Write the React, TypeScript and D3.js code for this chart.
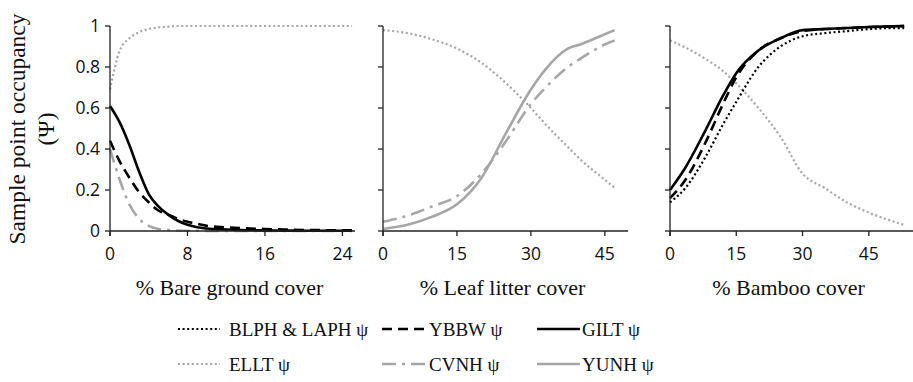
import React, { useEffect, useRef } from 'react';
import * as d3 from 'd3';

// Panel 1: % Bare ground cover
const bareX = [0, 1, 2, 3, 4, 5, 6, 7, 8, 9, 10, 12, 14, 16, 18, 20, 22, 24, 25];
const bareELLT = [0.69, 0.88, 0.94, 0.97, 0.985, 0.993, 0.997, 1, 1, 1, 1, 1, 1, 1, 1, 1, 1, 1, 1];
const bareCVNH = [0.4, 0.25, 0.13, 0.06, 0.025, 0.01, 0.005, 0.002, 0.001, 0.001, 0, 0, 0, 0, 0, 0, 0, 0, 0];
const bareYBBW = [0.44, 0.34, 0.26, 0.19, 0.14, 0.1, 0.08, 0.06, 0.045, 0.035, 0.025, 0.018, 0.013, 0.01, 0.007, 0.005, 0.004, 0.003, 0.003];
const bareGILT = [0.61, 0.53, 0.42, 0.29, 0.18, 0.12, 0.08, 0.05, 0.03, 0.018, 0.012, 0.007, 0.004, 0.003, 0.002, 0.001, 0.001, 0.001, 0.001];

// Panel 2: % Leaf litter cover
const leafX = [0, 5, 10, 15, 20, 25, 30, 33, 37.5, 40, 45, 47];
const leafELLT = [0.98, 0.965, 0.935, 0.89, 0.82, 0.72, 0.6, 0.52, 0.41, 0.35, 0.25, 0.21];
const leafCVNH = [0.045, 0.075, 0.12, 0.17, 0.28, 0.44, 0.62, 0.7, 0.8, 0.84, 0.91, 0.93];
const leafYUNH = [0.01, 0.03, 0.07, 0.13, 0.26, 0.48, 0.69, 0.79, 0.89, 0.91, 0.96, 0.98];

// Panel 3: % Bamboo cover
const bambooX = [0, 3.5, 8, 12, 15, 20, 25, 30, 35, 40, 45, 50, 53];
const bambooELLT = [0.93, 0.895, 0.84, 0.78, 0.72, 0.6, 0.46, 0.28, 0.21, 0.14, 0.09, 0.05, 0.03];
const bambooBLPH = [0.14, 0.21, 0.36, 0.52, 0.63, 0.8, 0.9, 0.95, 0.965, 0.975, 0.985, 0.99, 0.99];
const bambooYBBW = [0.16, 0.25, 0.43, 0.62, 0.75, 0.88, 0.94, 0.975, 0.985, 0.99, 0.995, 0.998, 1];
const bambooGILT = [0.2, 0.31, 0.49, 0.66, 0.77, 0.88, 0.94, 0.98, 0.985, 0.99, 0.995, 0.998, 1];

const yTicks = [0, 0.2, 0.4, 0.6, 0.8, 1];
const bareTicks = [0, 8, 16, 24];
const leafTicks = [0, 15, 30, 45];
const bambooTicks = [0, 15, 30, 45];

const BLACK = '#000000';
const GRAY = '#a6a6a6';

const styles: Record<string, { color: string; width: number; dash: string | null }> = {
  BLPH: { color: BLACK, width: 2.2, dash: '2 2.6' },
  YBBW: { color: BLACK, width: 2.6, dash: '10 6' },
  GILT: { color: BLACK, width: 2.6, dash: null },
  ELLT: { color: GRAY, width: 2.2, dash: '2 2.6' },
  CVNH: { color: GRAY, width: 2.6, dash: '14 6 3 6' },
  YUNH: { color: GRAY, width: 2.6, dash: null },
};

const SERIF = '"Liberation Serif", "Times New Roman", serif';
const SANS = '"Open Sans", sans-serif';

const App: React.FC = () => {
  const ref = useRef<SVGSVGElement>(null);

  useEffect(() => {
    if (!ref.current) return;
    const svg = d3.select(ref.current);
    svg.selectAll('*').remove();

    const y = d3.scaleLinear().domain([0, 1]).range([231, 26]);

    const panels = [
      {
        x: d3.scaleLinear().domain([0, 25.3]).range([110, 355]),
        ticks: bareTicks,
        title: '% Bare ground cover',
        xs: bareX,
        series: [
          { key: 'ELLT', v: bareELLT },
          { key: 'CVNH', v: bareCVNH },
          { key: 'YBBW', v: bareYBBW },
          { key: 'GILT', v: bareGILT },
        ],
        yLabels: true,
      },
      {
        x: d3.scaleLinear().domain([0, 49.7]).range([383, 628]),
        ticks: leafTicks,
        title: '% Leaf litter cover',
        xs: leafX,
        series: [
          { key: 'ELLT', v: leafELLT },
          { key: 'CVNH', v: leafCVNH },
          { key: 'YUNH', v: leafYUNH },
        ],
        yLabels: false,
      },
      {
        x: d3.scaleLinear().domain([0, 55]).range([670, 913]),
        ticks: bambooTicks,
        title: '% Bamboo cover',
        xs: bambooX,
        series: [
          { key: 'ELLT', v: bambooELLT },
          { key: 'BLPH', v: bambooBLPH },
          { key: 'YBBW', v: bambooYBBW },
          { key: 'GILT', v: bambooGILT },
        ],
        yLabels: false,
      },
    ];

    panels.forEach(p => {
      const g = svg.append('g');

      // series lines
      p.series.forEach(s => {
        const st = styles[s.key];
        const line = d3.line<number>()
          .x((_, i) => p.x(p.xs[i]))
          .y(d => y(d))
          .curve(d3.curveMonotoneX);
        g.append('path')
          .datum(s.v)
          .attr('fill', 'none')
          .attr('stroke', st.color)
          .attr('stroke-width', st.width)
          .attr('stroke-dasharray', st.dash)
          .attr('d', line);
      });

      // x axis
      const [x0, x1] = p.x.range();
      g.append('line')
        .attr('x1', x0).attr('x2', x1)
        .attr('y1', y(0)).attr('y2', y(0))
        .attr('stroke', '#222').attr('stroke-width', 1.3);
      p.ticks.forEach(t => {
        g.append('line')
          .attr('x1', p.x(t)).attr('x2', p.x(t))
          .attr('y1', y(0)).attr('y2', y(0) + 5)
          .attr('stroke', '#222').attr('stroke-width', 1.3);
        g.append('text')
          .attr('x', p.x(t)).attr('y', 260)
          .attr('text-anchor', 'middle')
          .attr('font-family', SANS)
          .attr('font-size', 17.5)
          .attr('fill', '#111')
          .text(String(t));
      });

      // y axis
      g.append('line')
        .attr('x1', x0).attr('x2', x0)
        .attr('y1', y(1)).attr('y2', y(0) + 5)
        .attr('stroke', '#222').attr('stroke-width', 1.3);
      yTicks.forEach(t => {
        g.append('line')
          .attr('x1', x0 - 5).attr('x2', x0)
          .attr('y1', y(t)).attr('y2', y(t))
          .attr('stroke', '#222').attr('stroke-width', 1.3);
        if (p.yLabels) {
          g.append('text')
            .attr('x', x0 - 10).attr('y', y(t))
            .attr('dy', '0.36em')
            .attr('text-anchor', 'end')
            .attr('font-family', SANS)
            .attr('font-size', 17.5)
            .attr('fill', '#111')
            .text(String(t));
        }
      });

      // x title
      g.append('text')
        .attr('x', (x0 + x1) / 2 - 3).attr('y', 295)
        .attr('text-anchor', 'middle')
        .attr('font-family', SERIF)
        .attr('font-size', 22)
        .attr('fill', '#111')
        .text(p.title);
    });

    // y title
    const yt = svg.append('text')
      .attr('transform', `translate(25,129) rotate(-90)`)
      .attr('text-anchor', 'middle')
      .attr('font-family', SERIF)
      .attr('font-size', 23.5)
      .attr('fill', '#111');
    yt.append('tspan').attr('x', 0).attr('dy', 0).text('Sample point occupancy');
    yt.append('tspan').attr('x', 0).attr('dy', 29).text('(Ψ)');

    // legend
    const legendRows = [
      ['BLPH', 'YBBW', 'GILT'],
      ['ELLT', 'CVNH', 'YUNH'],
    ];
    const legendNames: Record<string, string> = {
      BLPH: 'BLPH & LAPH ψ',
      YBBW: 'YBBW ψ',
      GILT: 'GILT ψ',
      ELLT: 'ELLT ψ',
      CVNH: 'CVNH ψ',
      YUNH: 'YUNH ψ',
    };
    const colStart = [178, 382, 537];
    const colLen = [42, 45, 43];
    const rowY = [329, 364];
    legendRows.forEach((row, ri) => {
      row.forEach((key, ci) => {
        const st = styles[key];
        svg.append('line')
          .attr('x1', colStart[ci]).attr('x2', colStart[ci] + colLen[ci])
          .attr('y1', rowY[ri]).attr('y2', rowY[ri])
          .attr('stroke', st.color)
          .attr('stroke-width', st.width)
          .attr('stroke-dasharray', st.dash);
        svg.append('text')
          .attr('x', colStart[ci] + colLen[ci] + (ci === 0 ? 9 : 2))
          .attr('y', rowY[ri] + 6.5)
          .attr('font-family', SERIF)
          .attr('font-size', 19)
          .attr('fill', '#111')
          .text(legendNames[key]);
      });
    });
  }, []);

  return (
    <svg
      ref={ref}
      width={913}
      height={382}
      style={{ position: 'absolute', left: 0, top: 0, background: '#fff' }}
    />
  );
};

export default App;
